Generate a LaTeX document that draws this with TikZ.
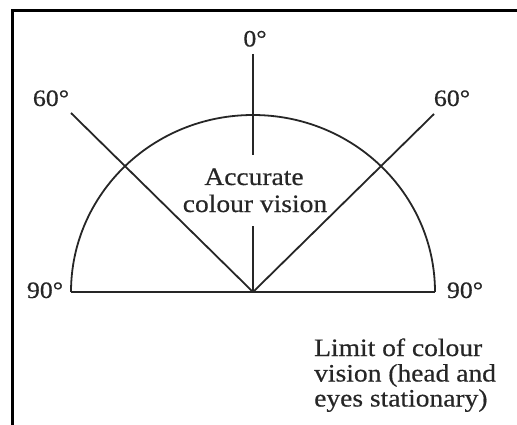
\documentclass[tikz,border=0pt]{standalone}
\usepackage{fontspec}
\setmainfont{Liberation Serif}[FakeStretch=1.1, FakeBold=0.5]
\definecolor{ink}{HTML}{262626}
\begin{document}
\begin{tikzpicture}[x=1pt,y=-1pt,
  lbl/.style={inner sep=0pt, text=ink, font=\fontsize{23.5}{27}\selectfont},
  txt/.style={inner sep=0pt, text=ink, font=\fontsize{25}{27}\selectfont},
  ln/.style={draw=ink, line width=1.8pt},
  frame/.style={draw=black, line width=3pt}]
\useasboundingbox (0,0) rectangle (517,425);
% frame
\coordinate (fa) at (12.5,425);
\coordinate (fb) at (12.5,10.5);
\coordinate (fc) at (517,10.5);
\draw[frame] (fa) -- (fb) -- (fc);
% geometry
\coordinate (O) at (253,292);
\coordinate (L) at (71,292);
\coordinate (R) at (435,292);
\coordinate (vt) at (253,54);
\coordinate (va) at (253,155);
\coordinate (vb) at (253,226);
\coordinate (dl) at (71,113);
\coordinate (dr) at (434,114);
\draw[ln] (L) -- (R);
\draw[ln] (R) arc[start angle=0, end angle=180, x radius=182pt, y radius=177pt];
\draw[ln] (vt) -- (va);
\draw[ln] (vb) -- (O);
\draw[ln] (dl) -- (O);
\draw[ln] (dr) -- (O);
% labels
\node[lbl, anchor=base] (z) at (255,46.5) {0°};
\node[lbl, anchor=base] (sl) at (51,106) {60°};
\node[lbl, anchor=base] (sr) at (452,106) {60°};
\node[lbl, anchor=base] (nl) at (45,298) {90°};
\node[lbl, anchor=base] (nr) at (465,298) {90°};
\node[txt, anchor=base] (a1) at (254,185) {Accurate};
\node[txt, anchor=base] (a2) at (255,212) {colour vision};
\node[txt, anchor=base west] (l1) at (314,356) {Limit of colour};
\node[txt, anchor=base west] (l2) at (314,381.5) {vision (head and};
\node[txt, anchor=base west] (l3) at (314,406.5) {eyes stationary)};
\end{tikzpicture}
\end{document}
